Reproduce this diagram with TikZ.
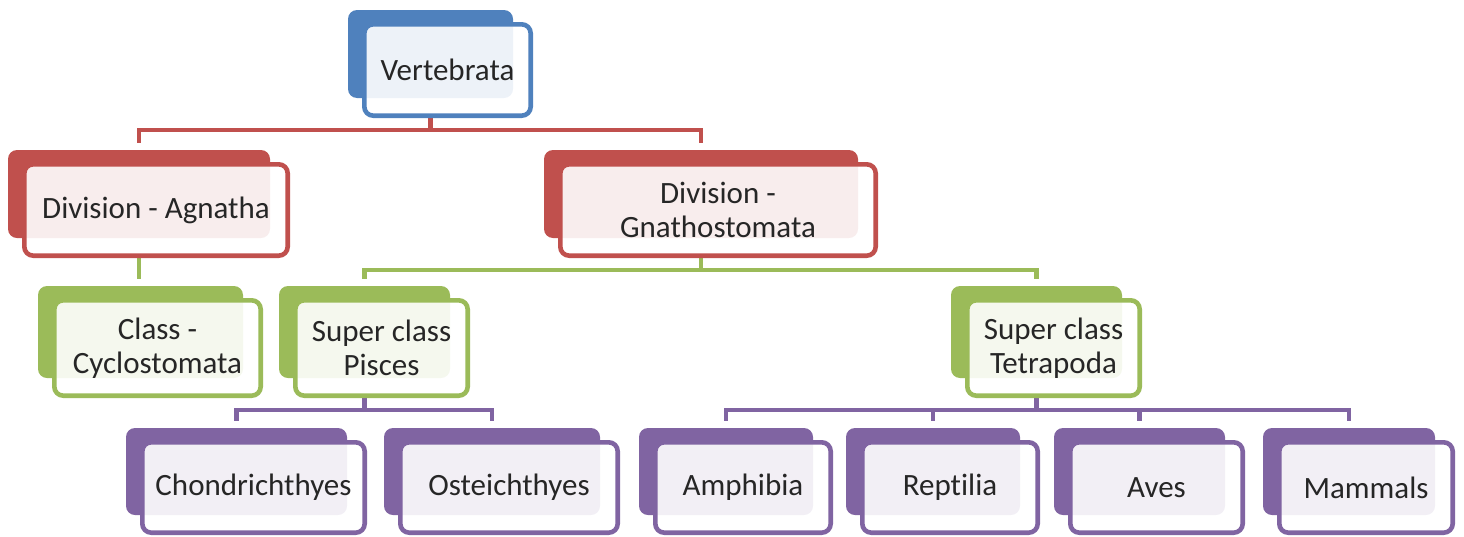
\documentclass[tikz,border=0pt]{standalone}
\usepackage{fontspec}
\setmainfont{Carlito}[Ligatures=CommonOff]
\usetikzlibrary{backgrounds}
\definecolor{cblue}{HTML}{4F81BD}
\definecolor{cred}{HTML}{C0504D}
\definecolor{cgreen}{HTML}{9BBB59}
\definecolor{cpurple}{HTML}{8064A2}
\tikzset{
  backbox/.style={fill=#1, draw=none, rounded corners=9pt, inner sep=0pt, rectangle},
  frontbox/.style={draw=#1, line width=4.6pt, fill=white, fill opacity=0.9, text opacity=1,
    rounded corners=9pt, inner sep=0pt, rectangle, align=center, text=black!85,
    font=\fontsize{31}{34}\selectfont},
  conn/.style={draw=#1, line width=4.6pt},
}
\newcommand\taxon[7]{%
  \node[backbox=#2, minimum width={(#5-#3-6)*1pt}, minimum height={(#6-#4-8)*1pt}]
    (#1b) at ({(#3+#5)/2-17},{(#4+#6)/2-16}) {};
  \node[frontbox=#2, minimum width={(#5-#3-4.6)*1pt}, minimum height={(#6-#4-4.6)*1pt}]
    (#1) at ({(#3+#5)/2},{(#4+#6)/2}) {#7};
}
\newcommand\taxlink[3]{%
  \draw[conn=#1] (#2b.center |- #2.south) -- ++(0,12) -| ([yshift=7pt]#3b.north);
}
\newcommand\taxstraight[3]{%
  \draw[conn=#1] (#2b.center |- #2.south) -- ([yshift=7pt]#2b.center |- #3b.north);
}
\begin{document}
\begin{tikzpicture}[x=1pt,y=-1pt]
\useasboundingbox (0,0) rectangle (1464,536);
\taxon{vert}{cblue}{362}{22}{533}{118}{Vertebrata}
\taxon{agn}{cred}{22}{162}{290}{258}{Division - Agnatha}
\taxon{gna}{cred}{558}{162}{878}{258}{Division -\\Gnathostomata}
\taxon{cyc}{cgreen}{52}{298}{263}{398}{Class -\\Cyclostomata}
\taxon{pis}{cgreen}{293}{298}{470}{398}{Super class\\Pisces}
\taxon{tet}{cgreen}{965}{298}{1142}{398}{Super class\\Tetrapoda}
\taxon{cho}{cpurple}{140}{440}{367}{535}{Chondrichthyes}
\taxon{ost}{cpurple}{398}{440}{620}{535}{Osteichthyes}
\taxon{amp}{cpurple}{653}{440}{833}{535}{Amphibia}
\taxon{rep}{cpurple}{860}{440}{1040}{535}{Reptilia}
\taxon{ave}{cpurple}{1068}{440}{1245}{535}{Aves}
\taxon{mam}{cpurple}{1277}{440}{1455}{535}{Mammals}
\begin{scope}[on background layer]
\taxlink{cred}{vert}{agn}
\taxlink{cred}{vert}{gna}
\taxstraight{cgreen}{agn}{cyc}
\taxlink{cgreen}{gna}{pis}
\taxlink{cgreen}{gna}{tet}
\taxlink{cpurple}{pis}{cho}
\taxlink{cpurple}{pis}{ost}
\taxlink{cpurple}{tet}{amp}
\taxlink{cpurple}{tet}{rep}
\taxlink{cpurple}{tet}{ave}
\taxlink{cpurple}{tet}{mam}
\end{scope}
\end{tikzpicture}
\end{document}
